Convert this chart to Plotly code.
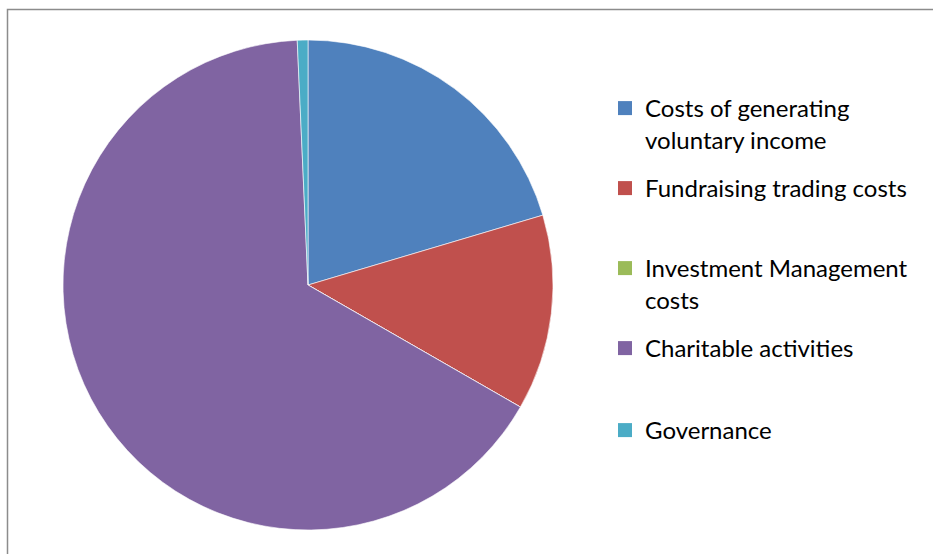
import plotly.graph_objects as go

categories = ["Costs of generating voluntary income", "Fundraising trading costs",
              "Investment Management costs", "Charitable activities", "Governance"]
legend_labels = ["Costs of generating<br>voluntary income", "Fundraising trading costs",
                 "Investment Management<br>costs", "Charitable activities", "Governance"]
values = [20.4, 12.9, 0.0, 66.0, 0.7]
colors = ["#4F81BD", "#C0504D", "#9BBB59", "#8064A2", "#4BACC6"]

W, H = 933, 554
fig = go.Figure()
fig.add_trace(go.Pie(
    labels=categories,
    values=values,
    sort=False,
    direction="clockwise",
    rotation=0,
    textinfo="none",
    showlegend=False,
    hovertemplate="%{label}: %{value}<extra></extra>",
    marker=dict(colors=colors, line=dict(color="white", width=0.6)),
    domain=dict(x=[63 / W, 553 / W], y=[1 - 530 / H, 1 - 40 / H]),
))

# legend entries (one legend per category so spacing matches the reference)
legend_names = ["legend", "legend2", "legend3", "legend4", "legend5"]
legend_tops = [86, 166, 246, 326, 408]
for name, lab, col in zip(legend_names, legend_labels, colors):
    fig.add_trace(go.Scatter(
        x=[None], y=[None], mode="markers", name=lab, legend=name,
        marker=dict(symbol="square", size=14, color=col, line=dict(width=0)),
        hoverinfo="skip",
    ))

legend_style = dict(
    xanchor="left", yanchor="top",
    font=dict(size=24, family="Lato, sans-serif", color="#000000"),
    bgcolor="rgba(0,0,0,0)", itemclick=False, itemdoubleclick=False, valign="top",
    borderwidth=0,
)
layout_legends = {}
for name, top in zip(legend_names, legend_tops):
    layout_legends[name] = dict(x=605 / W, y=1 - top / H, **legend_style)

fig.update_layout(
    width=W, height=H,
    margin=dict(l=0, r=0, t=0, b=0),
    paper_bgcolor="white",
    plot_bgcolor="rgba(0,0,0,0)",
    xaxis=dict(visible=False),
    yaxis=dict(visible=False),
    font=dict(family="Lato, sans-serif", color="#000000"),
    shapes=[dict(type="rect", xref="paper", yref="paper",
                 x0=7.5 / W, x1=1.02, y0=-0.02, y1=1 - 9.5 / H,
                 line=dict(color="#8C8C8C", width=1.5), fillcolor="rgba(0,0,0,0)")],
    **layout_legends,
)

fig.write_html("out.html")
